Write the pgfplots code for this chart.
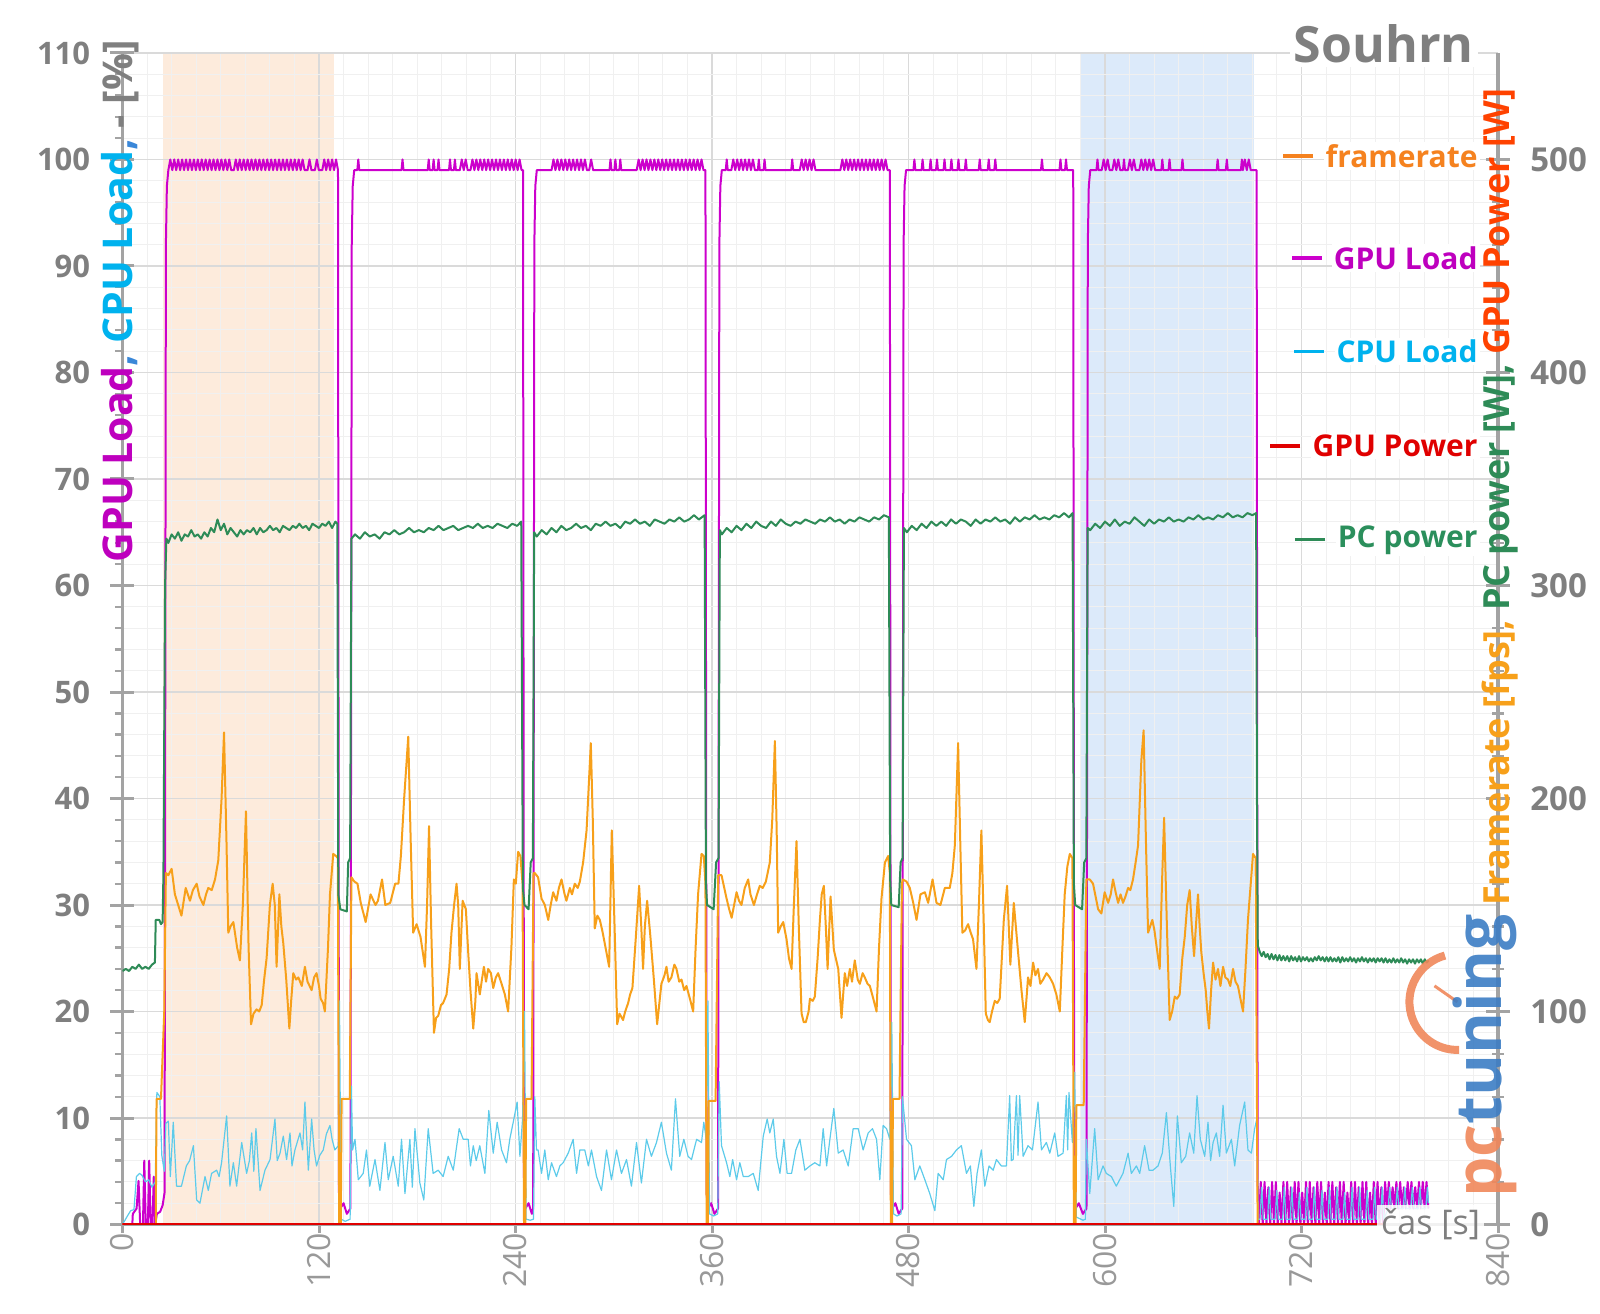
\documentclass[border=0pt]{standalone}
\usepackage{pgfplots}
\pgfplotsset{compat=1.18}
\usepackage{fontspec}
\setmainfont{Open Sans}
\newcommand{\fs}[1]{\fontsize{#1}{#1}\selectfont}
\definecolor{cfps}{HTML}{F7A01A}
\definecolor{cfpstxt}{HTML}{F5821F}
\definecolor{cgpu}{HTML}{CC00CC}
\definecolor{cgputxt}{HTML}{BE00BE}
\definecolor{ccpu}{HTML}{5DCBEA}
\definecolor{ccputxt}{HTML}{00B2EE}
\definecolor{cgpupow}{HTML}{E00000}
\definecolor{cgpupowlbl}{HTML}{FF4200}
\definecolor{cpc}{HTML}{2E8B57}
\definecolor{cpctxt}{HTML}{2B8F5C}
\definecolor{cgrid}{HTML}{DADADA}
\definecolor{cgridminor}{HTML}{F0F0F0}
\definecolor{caxis}{HTML}{A3A3A3}
\definecolor{ctick}{HTML}{7F7F7F}
\definecolor{cxtick}{HTML}{999999}
\definecolor{cpeach}{HTML}{FDEBDC}
\definecolor{cblue}{HTML}{DCEAFA}
\definecolor{clogoO}{HTML}{F0875A}
\definecolor{clogoB}{HTML}{3C7DC4}
\definecolor{ccomma}{HTML}{3A87D8}
\pgfplotsset{
  base/.style={scale only axis, width=687.75pt, height=585.75pt, xmin=0, xmax=840,
    at={(0,0)}, anchor=south west, /pgf/number format/assume math mode=true},
}
\begin{document}
\begin{tikzpicture}
% ---------- background: shading and grid
\begin{axis}[base, ymin=0, ymax=110, axis on top,
  axis line style={draw=none},
  xtick={0,120,...,840}, minor x tick num=7,
  ytick={0,10,...,110}, minor y tick num=4,
  major tick length=0pt, minor tick length=0pt,
  xticklabels={}, yticklabels={},
  grid=both,
  major grid style={cgrid, line width=0.8pt},
  minor grid style={cgridminor, line width=0.5pt}]
\addplot[draw=none, fill=cpeach] coordinates {(24.5,110) (129,110)} \closedcycle;
\addplot[draw=none, fill=cblue] coordinates {(585.6,110) (690.8,110)} \closedcycle;
\end{axis}
% ---------- x axis
\begin{axis}[base, ymin=0, ymax=110,
  axis x line*=bottom, axis y line=none,
  axis line style={draw=caxis, line width=1.6pt},
  xtick={0,120,...,840}, ytick=\empty,
  tick align=outside, major tick length=4pt,
  major x tick style={draw=caxis, line width=1.5pt},
  xticklabel style={font=\fs{16}, text=cxtick, rotate=90, anchor=east, inner sep=0pt}]
\end{axis}
% ---------- left axis: GPU load, CPU load
\begin{axis}[base, ymin=0, ymax=110,
  axis x line=none, axis y line*=left,
  axis line style={draw=caxis, line width=1.6pt},
  xtick=\empty, ytick={0,10,...,110}, minor y tick num=4,
  tick align=center, major tick length=12pt, minor tick length=3.5pt,
  major y tick style={draw=caxis, line width=1.5pt},
  minor y tick style={draw=caxis, line width=1.2pt, xshift=-2pt},
  yticklabel style={font=\bfseries\fs{15.5}, text=ctick, anchor=east, inner sep=0pt, xshift=-10pt}]
% GPU Load
\addplot[cgpu, line width=1pt, line join=round] coordinates {
(0,0)(6,0)(6.3,1)(8.6,1.5)(9.8,4.1)(10.8,0)(12.5,0)(13.3,6)(14.2,0)(15.5,0)(16.3,6)(17.2,0)(18.3,0)(19.1,4.5)(20,0)(21,1)(23,1.2)(24.5,1.8)(25.7,3)
(26.5,92)(27.1,97.5)(28,99)(29.2,100)(30.4,99)(31.6,100)(32.8,99)(34,100)(35.2,99)(36.4,100)(37.6,99)(38.8,100)(40,99)(41.2,100)(42.4,99)(43.6,100)(44.8,99)(46,100)(47.2,99)(48.4,100)(49.6,99)(50.8,100)(52,99)(53.2,100)(54.4,99)(55.6,100)(56.8,99)(58,100)(59.2,99)(60.4,100)(61.6,99)(62.8,100)(64,99)(65.2,100)(66.4,99)(68,99)(69.2,100)(70.4,99)(71.6,100)(72.8,99)(74,100)(75.2,99)(76.4,100)(77.6,99)(78.8,100)(80,99)(81.2,100)(82.4,99)(83.6,100)(84.8,99)(86,100)(87.2,99)(88.4,100)(89.6,99)(90.8,100)(92,99)(93.2,100)(94.4,99)(95.6,100)(96.8,99)(98,100)(99.2,99)(100.4,100)(101.6,99)(102.8,100)(104,99)(105.2,100)(106.4,99)(107.6,100)(108.8,99)(110,100)(111.2,99)(113,99)(114.2,100)(115.4,99)(117.5,99)(118.7,100)(119.9,99)(122,99)(123.2,100)(124.4,99)(125.6,100)(126.8,99)(128,100)(129.2,99)(130.4,100)(131.6,99)(132.2,3)(133,1.5)(135,2)(137,1)(139.2,1.5)
(140,92)(140.6,97.5)(141.5,99)(143.4,99)(144,100)(144.6,99)(170.4,99)(171,100)(171.6,99)(186.4,99)(187,100)(187.6,99)(189.4,99)(190,100)(190.6,99)(192.4,99)(193,100)(193.6,99)(199.4,99)(200,100)(200.6,99)(202.4,99)(203,100)(203.6,99)(206,99)(207.2,100)(208.4,99)(209.6,100)(210.8,99)(212.5,99)(213.7,100)(214.9,99)(216.1,100)(217.3,99)(218.5,100)(219.7,99)(220.9,100)(222.1,99)(223.3,100)(224.5,99)(225.7,100)(226.9,99)(228.1,100)(229.3,99)(230.5,100)(231.7,99)(232.9,100)(234.1,99)(235.3,100)(236.5,99)(237.7,100)(238.9,99)(240.1,100)(241.3,99)(242.5,100)(243.7,99)(244.6,99)(245.2,3)(246,1.5)(248,2)(250,1)(250.8,1.5)
(251.5,92)(252.1,97.5)(253,99)(262,99)(263.2,100)(264.4,99)(265.6,100)(266.8,99)(268,100)(269.2,99)(270.4,100)(271.6,99)(272.8,100)(274,99)(275.2,100)(276.4,99)(277.6,100)(278.8,99)(280,100)(281.2,99)(282.4,100)(283.6,99)(285,99)(286.2,100)(287.4,99)(297.4,99)(298,100)(298.6,99)(300.4,99)(301,100)(301.6,99)(303.4,99)(304,100)(304.6,99)(314,99)(315.2,100)(316.4,99)(317.6,100)(318.8,99)(320,100)(321.2,99)(322.4,100)(323.6,99)(324.8,100)(326,99)(327.2,100)(328.4,99)(329.6,100)(330.8,99)(332,100)(333.2,99)(334.4,100)(335.6,99)(336.8,100)(338,99)(339.2,100)(340.4,99)(341.6,100)(342.8,99)(344,100)(345.2,99)(346.4,100)(347.6,99)(348.8,100)(350,99)(351.2,100)(352.4,99)(353.6,100)(354.8,99)(356,99)(356.7,3)(357.5,1.5)(359.5,2)(361.5,1)(363.7,1.5)
(364.5,92)(365.1,97.5)(366,99)(368.4,99)(369,100)(369.6,99)(371.8,99)(373,100)(374.2,99)(375.4,100)(376.6,99)(377.8,100)(379,99)(380.2,100)(381.4,99)(382.6,100)(383.8,99)(385,100)(386.2,99)(388,99)(388.6,100)(389.2,99)(391.5,99)(392.1,100)(392.7,99)(408.4,99)(409,100)(409.6,99)(413.6,99)(414.8,100)(416,99)(417.2,100)(418.4,99)(419.6,100)(420.8,99)(422,100)(423.2,99)(438.4,99)(439.6,100)(440.8,99)(442,100)(443.2,99)(444.4,100)(445.6,99)(446.8,100)(448,99)(449.2,100)(450.4,99)(451.6,100)(452.8,99)(454,100)(455.2,99)(456.4,100)(457.6,99)(458.8,100)(460,99)(461.2,100)(462.4,99)(463.6,100)(464.8,99)(466,100)(467.2,99)(468.6,99)(469.2,3)(470,1.5)(472,2)(474,1)(476.2,1.5)
(477,92)(477.6,97.5)(478.5,99)(483,99)(483.6,100)(484.2,99)(488,99)(488.6,100)(489.2,99)(492.9,99)(493.5,100)(494.1,99)(496.8,99)(497.4,100)(498,99)(501.4,99)(502,100)(502.6,99)(505.6,99)(506.2,100)(506.8,99)(509.9,99)(510.5,100)(511.1,99)(514.4,99)(515,100)(515.6,99)(522.9,99)(523.5,100)(524.1,99)(528.4,99)(529,100)(529.6,99)(532.4,99)(533,100)(533.6,99)(560.9,99)(561.5,100)(562.1,99)(572.2,99)(572.8,100)(573.4,99)(575.6,99)(576.2,100)(576.8,99)(580.6,99)(581.2,3)(582,1.5)(584,2)(586.5,1)(588.7,1.5)
(589.5,92)(590.1,97.5)(591,99)(594.8,99)(595.4,100)(596,99)(598,99)(599.2,100)(600.4,99)(601.6,100)(602.8,99)(604.5,99)(605.7,100)(606.9,99)(608.1,100)(609.3,99)(611,99)(611.6,100)(612.2,99)(614,99)(615.2,100)(616.4,99)(617.6,100)(618.8,99)(621,99)(622.2,100)(623.4,99)(624.6,100)(625.8,99)(627,100)(628.2,99)(629.4,100)(630.6,99)(634.4,99)(635,100)(635.6,99)(638.8,99)(639.4,100)(640,99)(646.7,99)(647.3,100)(647.9,99)(668.2,99)(668.8,100)(669.4,99)(673.8,99)(674.4,100)(675,99)(683,99)(683.6,100)(684.2,99)(685.4,100)(686.6,99)(687.8,100)(689,99)(692.6,99)(693.2,4)(694,0)
(695.15,4)(696.3,0)(697.45,4)(698.6,0)(699.75,3.5)(700.9,0)(702.05,4)(703.2,0)(704.35,4)(705.5,0)(706.65,3)(707.8,0)(708.95,4)(710.1,0)(711.25,4)(712.4,0)(713.55,3.5)(714.7,0)(715.85,4)(717,0)(718.15,4)(719.3,0)(720.45,3)(721.6,0)(722.75,4)(723.9,0)(725.05,4)(726.2,0)(727.35,3.5)(728.5,0)(729.65,4)(730.8,0)(731.95,4)(733.1,0)(734.25,3)(735.4,0)(736.55,4)(737.7,0)(738.85,4)(740,0)(741.15,3.5)(742.3,0)(743.45,4)(744.6,0)(745.75,4)(746.9,0)(748.05,3)(749.2,0)(750.35,4)(751.5,0)(752.65,4)(753.8,0)(754.95,3.5)(756.1,0)(757.25,4)(758.4,0)(759.55,4)(760.7,0)(761.85,3)(763,0)(764.15,4)(765.3,0)(766.45,4)(767.6,0)(768.75,3.5)(769.9,0)(771.05,4)(772.2,1.5)(773.35,4)(774.5,1.5)(775.65,3.5)(776.8,1.5)(777.95,4)(779.1,1.5)(780.25,4)(781.4,1.5)(782.55,3.5)(783.7,1.5)(784.85,4)(786,1.5)(787.15,4)(788.3,1.5)(789.45,3.5)(790.6,1.5)(791.75,4)(792.9,1.5)(794.05,4)(795.2,1.5)(796.35,4)(797.5,1.5)
};
% CPU Load
\addplot[ccpu, line width=0.6pt, line join=round] coordinates {
(0,0)(3,0.8)(5,1.3)(7,1.4)(8.5,4.5)(10.5,4.8)(12,4.6)(14,4)(16,4.2)(18,3.5)(20,4)(21,12.4)(22.8,12)(24,6.5)(25.5,5)(26.5,9.5)(28,9.7)(29.2,4.5)(31,9.6)(33,3.6)(36,3.6)(39,5.5)(41,6)(43.3,7.4)(45.3,2.3)(47.3,2)(50.4,4.5)(52.4,3.2)(54.4,4.8)(57.5,5.1)(59,4.5)(60.5,5.8)(63.6,10.2)(65.6,3.6)(67.7,5.8)(69.7,3.6)(72.8,7.7)(75.8,4.8)(77.5,6)(78.9,8.6)(80.2,5)(81.5,9)(84,3.2)(87,5.1)(90.1,6.1)(93.1,9.9)(94.5,6)(96.2,6.7)(98.2,8.3)(100.2,6.1)(102.3,8.6)(103.5,5.5)(105.3,7)(108.4,8.6)(110,7)(111.4,11.5)(113.5,5.1)(115.5,9.9)(117,7)(118.5,5.5)(120.5,6.5)(122.6,7)(124.5,8.5)(126.7,9.3)(128,8)(129.7,7)(131.8,7.4)(132.5,21)(133.5,0.5)(136,0.3)(139,0.5)(139.8,13)(140.5,7)
(142,8)(144,4.2)(147,4.8)(149,7)(151,3.6)(154.2,6.1)(157.2,3.2)(160.3,7.7)(162.3,4.2)(165.3,6.4)(168.4,3.6)(170.4,8)(172.5,2.9)(175.5,8)(177,3.5)(178.6,9)(181.6,3.9)(184,2.3)(186.7,9)(189.7,4.8)(192.8,5.1)(195.8,4.5)(198.9,6.4)(202,5.1)(205.6,9)(208.1,8)(211.1,8)(212.5,5.5)(214.2,7.4)(216,6)(218.2,7.4)(221.3,4.8)(223.7,10.7)(226.4,6.7)(228.8,9.6)(231.5,7)(234.5,5.8)(236.5,8)(239,9.9)(241,11.5)(242.7,6.4)(244.3,9.9)(245.5,20)(246.5,0.5)(249,0.4)(251,0.5)(251.8,12)(252.8,7)
(253.8,7)(255.9,4.8)(257.9,7)(260,4.2)(262,5.8)(265,4.5)(267.1,5.5)(269.1,5.8)(272.2,6.7)(275.2,8)(277.3,4.8)(279.3,7)(282.3,7)(284.5,5.5)(286.4,7)(289.5,4.5)(292.5,3.2)(295.6,7)(298.6,4.2)(301.7,7)(304.7,4.8)(307.8,6.1)(310.8,3.6)(313.9,7.7)(316.9,3.9)(320,8)(323,6.4)(326.1,7.7)(329.1,9.6)(332.2,6.7)(335.2,5.1)(337.7,11.8)(340.3,6.4)(342.8,8)(345.4,6.4)(347.5,6.1)(350.6,8)(353.6,7.7)(355,9.6)(356.5,8)(357.5,21)(358.5,1)(361,0.8)(363.5,1)(364.4,13.4)(365.8,7.4)
(368.9,5.8)(370.9,4.5)(372.6,6.1)(375,4.2)(377,5.8)(379.1,4.5)(382.1,4.5)(385.2,4.8)(388.2,3.2)(391.3,8.3)(393.7,9.9)(395.3,8.6)(397.4,9.9)(399.4,6.4)(401.5,4.8)(403.9,8)(405.9,4.8)(408.6,4.8)(411.2,7)(413.7,8)(416.7,5.1)(419.8,5.5)(422.8,5.8)(425.9,5.5)(427.9,9)(430,5.5)(432,8)(434.4,10.9)(437.1,6.7)(440.1,7)(443.2,5.5)(446.2,9)(449.3,9)(452.3,7)(455.4,8.6)(458,9)(460.5,8)(462.5,4.2)(464.5,9.3)(466.6,9)(468.6,8)(469.8,19)(470.8,1)(473,0.8)(475.5,1)(476.3,12)(478.8,8)
(481.8,7.4)(483.9,4.2)(486.9,5.5)(490,4.2)(493,2.9)(496.1,1.3)(498.1,4.8)(501.2,4.2)(503.2,6.1)(506.3,6.4)(509.3,7)(512.3,7.4)(515.4,4.8)(517.8,5.5)(519.9,1.7)(521.9,4.8)(524.5,7)(526.6,3.6)(529.2,5.5)(531.7,5.1)(533.7,6.1)(536.7,5.5)(539.8,5.5)(541.8,12.1)(542.8,6)(543.9,6.1)(545.9,12.1)(546.9,6.5)(547.9,12.1)(550,6.4)(553,7.4)(555.7,7)(559.1,11.5)(561.2,7)(564.2,7.7)(566.3,6.7)(569.3,8.6)(571.3,6.4)(574.4,6.7)(576.4,12.1)(577.2,7)(578,12.4)(580.1,7.7)(581.5,14.3)(582.5,0.7)(586.6,0.4)(588,0.5)(588.6,8)(590.7,2.9)
(593.7,9)(595.8,4.2)(598.8,5.5)(600.8,4.8)(603.9,4.5)(606.9,3.6)(611,4.8)(614.1,6.7)(616.1,4.8)(619.2,5.5)(621.2,4.8)(624.2,7.4)(626.9,5.1)(629.3,5.1)(632.4,5.5)(635,6.7)(637.5,10.5)(639.9,5.5)(642,1.7)(644.2,10.2)(646.6,5.8)(649.3,6.4)(651.7,8.6)(654.2,6.7)(656.2,12.1)(658.2,8)(660.9,6.4)(662.9,9.6)(664.5,6)(666,7.7)(668,8.6)(670,6.4)(672.1,11.2)(674.1,6.7)(677.2,8)(679.2,5.5)(682.2,9.3)(685.3,11.5)(687.3,7)(689.4,6.7)(691.4,9)(692.8,10)(693.5,0.5)
(694.7,0.5)(695.7,3.5)(696.7,0.5)(699.3,0.5)(700.3,3.5)(701.3,0.5)(703.9,0.5)(704.9,3.2)(705.9,0.5)(708.5,0.5)(709.5,3.5)(710.5,0.5)(713.1,0.5)(714.1,3.5)(715.1,0.5)(717.7,0.5)(718.7,3)(719.7,0.5)(722.3,0.5)(723.3,3.5)(724.3,0.5)(726.9,0.5)(727.9,3.5)(728.9,0.5)(731.5,0.5)(732.5,3.2)(733.5,0.5)(736.1,0.5)(737.1,3.5)(738.1,0.5)(740.7,0.5)(741.7,3.5)(742.7,0.5)(745.3,0.5)(746.3,3)(747.3,0.5)(749.9,0.5)(750.9,3.5)(751.9,0.5)(754.5,0.5)(755.5,3.5)(756.5,0.5)(759.1,0.5)(760.1,3.2)(761.1,0.5)(763.7,0.5)(764.7,3.5)(765.7,0.5)(768.3,0.5)(769.3,3.5)(770.3,0.5)(772.9,1.5)(773.9,3.5)(774.9,1.5)(777.5,1.5)(778.5,3.5)(779.5,1.5)(782.1,1.5)(783.1,3.5)(784.1,1.5)(786.7,1.5)(787.7,3.5)(788.7,1.5)(791.3,1.5)(792.3,3.5)(793.3,1.5)(795.9,1.5)(796.9,3.5)(797.5,2)
};
\end{axis}
% ---------- right axis: framerate, PC power, GPU power
\begin{axis}[base, ymin=0, ymax=550, clip mode=individual,
  axis x line=none, axis y line*=right,
  axis line style={draw=caxis, line width=1.6pt},
  xtick=\empty, ytick={0,100,...,500}, minor y tick num=4,
  tick align=center, major tick length=12pt, minor tick length=6pt,
  major y tick style={draw=caxis, line width=1.5pt},
  minor y tick style={draw=caxis, line width=1.2pt},
  yticklabel style={font=\bfseries\fs{16.5}, text=ctick, anchor=west, inner sep=0pt, xshift=10pt}]
% framerate
\addplot[cfps, line width=1pt, line join=round] coordinates {
(0,0)(20.3,0)(20.8,59)(23.5,59)(25.5,100)(26.5,165)(28,164)(30,167)(32,155)(34,150)(36,145)(38.6,158)(41.2,152)(43,157)(45.3,160)(47,154)(49.4,150)(51,155)(52.4,158)(54.5,157)(56.5,162)(58.5,171)(60.5,200)(62,231)(63.5,180)(64.6,137)(66,140)(67.7,142)(70,130)(71.7,124)(73.5,150)(75.4,194)(77,130)(78.5,94)(80,99)(81.9,101)(83.5,100)(85,103)(86.5,115)(88,125)(90,150)(91.7,160)(93,150)(94.1,121)(95.8,155)(97,140)(98.2,132)(100,115)(101.9,92)(103,105)(104.3,118)(106,115)(107.4,116)(109.5,112)(111.4,121)(113,114)(115.5,110)(117,116)(118.5,118)(120,112)(121,106)(122.5,104)(123.6,100)(125.5,130)(126.7,155)(128.7,174)(130.4,173)(131.5,172)(132.3,0)(133.3,0)(133.8,59)(138.8,59)(139.8,163)
(141.6,161)(143.5,160)(145.5,151)(148.5,142)(151.5,155)(154.5,150)(156,152)(158.5,162)(160.5,150)(163.5,151)(166.5,160)(168.5,160)(170,173)(172,200)(174.5,229)(176,180)(177.5,137)(179.6,141)(182,135)(184.7,121)(186,150)(187.2,187)(188.5,140)(190.2,90)(191.5,97)(192.8,98)(194.5,103)(195.8,104)(197.9,108)(199.5,120)(200.9,137)(202.5,150)(204,160)(205,150)(206,120)(207.7,152)(209.7,148)(211.1,128)(212.5,110)(214.2,92)(215.5,105)(216.2,118)(218.2,108)(219.5,115)(220.7,121)(222,114)(223.3,120)(225,118)(226.4,111)(228,116)(229.4,118)(231.5,113)(233.5,108)(235.5,100)(237.5,130)(239,162)(240.2,160)(241.6,175)(243,173)(244.3,160)(245.2,0)(246,0)(246.5,59)(249.8,59)(251,165)
(251.8,165)(253.8,163)(255.9,153)(257.9,150)(260,143)(261.5,150)(263,156)(265,152)(266.5,158)(268.1,162)(270,155)(271.1,152)(273.2,158)(274.5,155)(276.2,160)(278,158)(279.3,161)(281.3,170)(283.4,185)(286,226)(287.2,190)(288.4,139)(290,145)(291.5,143)(293,138)(294.5,132)(297.2,121)(298.8,185)(300.5,140)(302.1,94)(303.5,99)(305.7,96)(307,100)(308.8,104)(310,108)(311.4,111)(313.5,135)(315.5,159)(316.8,140)(317.9,120)(319,140)(320.4,152)(322.4,135)(324.5,115)(326.5,94)(328,105)(329.1,113)(331,117)(332.2,121)(333.5,114)(335.2,116)(337,122)(338.3,120)(340,114)(341.4,115)(343,110)(344.4,112)(346.5,106)(348.5,100)(350,130)(351.5,155)(353.6,174)(355,173)(356,160)(356.7,0)(357.5,0)(358,58)(362.2,58)(363.8,164)
(365.8,164)(367.5,158)(368.9,153)(370.5,148)(372,144)(373.5,150)(375,156)(376.5,152)(378,150)(380,158)(382.1,162)(383.5,155)(385.6,150)(387.5,155)(389.2,159)(391,158)(392.9,161)(395.3,170)(396.8,190)(398.4,227)(399.5,185)(400.4,137)(402,140)(403.5,142)(405.5,134)(407,125)(408.6,120)(410,150)(411.6,180)(413,140)(414.7,99)(416,95)(417.3,95)(419,100)(419.8,106)(421.5,105)(422.8,107)(424.5,125)(425.9,143)(427,155)(428.3,159)(429.5,140)(430.6,120)(432.4,154)(434.4,129)(437.1,120)(439.1,97)(440.3,110)(441.1,118)(442.5,112)(444.2,120)(445.5,114)(447.2,124)(449,115)(450.3,113)(452,118)(453.3,116)(455,113)(456.4,112)(458.5,106)(460.5,100)(462,130)(463.5,153)(465.6,170)(467.6,173)(468.6,165)(469.2,0)(470,0)(470.5,59)(474.5,59)(476,160)
(476.5,162)(478.8,161)(480.8,158)(482.9,151)(484.9,143)(487.3,155)(490,156)(492,151)(494.7,162)(497.1,151)(499.5,150)(502.2,158)(505.2,158)(506.8,165)(508.3,178)(510.3,226)(511.6,180)(512.9,137)(514.5,138)(516.4,141)(518,137)(519.4,134)(521.5,120)(523,150)(524.5,185)(526,140)(527.2,99)(528.5,96)(529.6,95)(531,100)(532.7,105)(534.2,104)(535.7,106)(537,125)(538.2,143)(540.2,159)(542.2,122)(544.3,151)(546.9,128)(549,110)(551,95)(553,116)(554.5,112)(556.1,123)(557.5,117)(559.1,120)(560.5,113)(562.2,115)(564.3,118)(566.3,116)(568.3,113)(570.3,108)(572.4,100)(574,130)(575.4,155)(577,168)(578.5,174)(580.1,172)(581,0)(582,0)(582.5,56)(587,56)(588.6,162)
(590.7,162)(592.7,160)(594,155)(595.8,148)(597.8,146)(599.8,156)(601.9,151)(603.5,155)(604.9,162)(606.5,156)(608,151)(609.5,155)(611,151)(612.5,154)(614.1,158)(615.5,157)(617.1,162)(618.7,170)(620.2,178)(622.2,218)(623.6,232)(625,180)(626.3,137)(627.6,140)(628.9,143)(630.2,138)(631.4,131)(633.4,120)(634.8,160)(636.1,191)(637.8,140)(639.5,96)(641,100)(642.6,107)(644,106)(645.6,108)(647.2,125)(648.7,135)(650.2,150)(651.7,157)(653,140)(654.4,126)(655.5,140)(656.8,155)(657.8,140)(658.8,128)(660.2,118)(661.5,110)(662.5,100)(663.5,92)(664.8,110)(666,123)(667.5,115)(669,120)(670.5,112)(672.1,121)(673.5,116)(675.1,115)(676.5,112)(678.2,120)(679.7,114)(681.2,112)(682.7,106)(684.3,100)(685.8,120)(687.3,143)(689,160)(690.4,174)(692,172)(693.2,0)(771,0)
};
% PC power
\addplot[cpc, line width=1pt, line join=round] coordinates {
(0,119)(2,120)(4,119)(6,121)(8,120)(10,122)(12,120)(14,121)(16,120)(18,122)(19.8,123)(20.3,143)(22.5,143)(23.5,141)(24.5,142)(25,165)(26,300)(26.8,322)
(28,320)(30,324)(32,322)(34,325)(36,321)(38,324)(40,323)(42,326)(44,323)(46,324)(48,322)(50,325)(52,323)(54,327)(56,325)(58,331)(60,326)(62,329)(64,324)(66,327)(68,325)(70,323)(72,326)(74,324)(76,326)(78,325)(80,327)(82,324)(84,327)(86,325)(88,326)(90,328)(92,326)(94,327)(96,325)(98,328)(100,327)(102,326)(104,328)(106,327)(108,329)(110,327)(112,328)(114,326)(116,329)(118,328)(120,327)(122,329)(124,328)(126,330)(128,327)(130,330)(131.2,329)(131.8,155)(133,148)(137,147)(137.8,170)(139,172)(139.8,322)
(142,324)(145,322)(148,325)(151,323)(154,324)(157,322)(160,325)(163,324)(166,326)(169,324)(172,325)(175,327)(178,325)(181,326)(184,325)(187,327)(190,326)(193,328)(196,326)(199,327)(202,328)(205,326)(208,327)(211,328)(214,327)(217,329)(220,327)(223,328)(226,327)(229,329)(232,328)(235,327)(238,329)(241,328)(243.5,330)(244.5,158)(245.5,150)(248,148)(249.3,170)(250.6,172)(251.4,325)
(253,323)(256,326)(259,324)(262,327)(265,325)(268,328)(271,326)(274,327)(277,329)(280,327)(283,328)(286,326)(289,329)(292,328)(295,330)(298,328)(301,329)(304,327)(307,330)(310,329)(313,331)(316,329)(319,330)(322,328)(325,331)(328,330)(331,329)(334,331)(337,330)(340,332)(343,330)(346,331)(349,333)(352,331)(355.5,333)(356.3,160)(357,150)(361,148)(362.5,170)(364,172)(364.8,326)
(366,324)(369,327)(372,325)(375,328)(378,326)(381,329)(384,327)(387,330)(390,328)(393,327)(396,330)(399,328)(402,331)(405,329)(408,328)(411,330)(414,329)(417,331)(420,330)(423,329)(426,331)(429,330)(432,332)(435,330)(438,331)(441,329)(444,331)(447,330)(450,332)(453,331)(456,330)(459,332)(462,331)(465,333)(468,332)(468.8,162)(469.5,150)(474,149)(475.2,170)(476.4,172)(477.2,327)
(479,325)(482,328)(485,326)(488,329)(491,327)(494,330)(497,328)(500,330)(503,328)(506,331)(509,329)(512,331)(515,330)(518,328)(521,331)(524,329)(527,331)(530,330)(533,332)(536,330)(539,331)(542,329)(545,332)(548,330)(551,332)(554,331)(557,333)(560,331)(563,332)(566,331)(569,333)(572,332)(575,334)(578,332)(580.2,334)(581,160)(581.8,150)(586,148)(587.3,170)(588.6,172)(589.4,327)
(591,326)(594,329)(597,327)(600,330)(603,328)(606,331)(609,328)(612,330)(615,329)(618,332)(621,330)(624,328)(627,331)(630,329)(633,331)(636,330)(639,332)(642,330)(645,331)(648,330)(651,332)(654,331)(657,333)(660,331)(663,332)(666,331)(669,333)(672,332)(675,334)(678,332)(681,333)(684,332)(687,334)(690,333)(692.3,334)(692.8,200)(693.3,131)
(694.5,128)(695.7,126)(696.9,128)(698.1,125.5)(699.3,127)(700.5,124.5)(701.7,127)(702.9,124.5)(704.1,126.5)(705.3,124)(706.5,126.5)(707.7,124)(708.9,126)(710.1,124)(711.3,126)(712.5,123.5)(713.7,126)(714.9,124)(716.1,125.5)(717.3,123.5)(718.5,126)(719.7,123.5)(720.9,125.5)(722.1,124)(723.3,125.5)(724.5,123.5)(725.7,125)(726.9,123.5)(728.1,125.5)(729.3,124)(730.5,126)(731.7,124)(732.9,125.5)(734.1,123.5)(735.3,125.5)(736.5,123.5)(737.7,125.5)(738.9,123.5)(740.1,125)(741.3,123.5)(742.5,125.5)(743.7,123)(744.9,125.5)(746.1,123.5)(747.3,125)(748.5,123.5)(749.7,125.5)(750.9,123.5)(752.1,125)(753.3,123)(754.5,125)(755.7,123.5)(756.9,125.5)(758.1,123.5)(759.3,125)(760.5,123)(761.7,125)(762.9,123.5)(764.1,125)(765.3,123)(766.5,125)(767.7,123.5)(768.9,125)(770.1,123)(771.3,125)(772.5,123)(773.7,124.5)(774.9,123)(776.1,125)(777.3,123)(778.5,124.5)(779.7,123)(780.9,125)(782.1,123)(783.3,124.5)(784.5,122.5)(785.7,124.5)(786.9,123)(788.1,124.5)(789.3,122.5)(790.5,124.5)(791.7,123)(792.9,124.5)(794.1,122.5)(795.3,124.5)(796.5,123)(797.7,124)
};
% GPU power
\addplot[cgpupow, line width=1.5pt] coordinates {(0,0) (771,0)};
% ---- texts and decorations
\node[anchor=center, inner sep=2pt, fill=white, fill opacity=0.85, text opacity=1, text=ctick, font=\fs{17}] at (rel axis cs:0.951,0) {čas [s]};
\node[anchor=base east, inner sep=2pt, fill=white, text=ctick, font=\bfseries\fs{25}] at (rel axis cs:0.9855,0.9915) {Souhrn};
\node[rotate=90, font=\bfseries\fs{20.5}] at (rel axis cs:-0.002,0.788)
  {{\color{cgputxt}GPU Load}{\color{ccomma},} {\color{ccputxt}CPU Load}{\color{ccomma},} {\color{ctick}- [\%]}};
\node[rotate=90, font=\bfseries\fs{18}] at (rel axis cs:1.0015,0.6206)
  {{\color{cfps}Framerate [fps],} {\color{cpc}PC power [W],} {\color{cgpupowlbl}GPU Power [W]}};
% logo
\draw[clogoO, line width=4pt, opacity=0.9] (rel axis cs:0.9705,0.1900) ++(105:24pt) arc[start angle=105, end angle=272, radius=24pt];
\draw[clogoO, line width=1.5pt, opacity=0.9] (rel axis cs:0.9705,0.1900) -- ++(145:14pt);
\node[rotate=90, font=\bfseries\fs{32}, opacity=0.9] at (rel axis cs:0.9905,0.1438)
  {{\color{clogoO}pc}{\color{clogoB}tuning}};
% legend
\node[anchor=east, inner sep=1pt, fill=white, text=cfpstxt, font=\bfseries\fs{15}] (L1) at (rel axis cs:0.9869,0.912) {framerate};
\draw[cfpstxt, line width=1.6pt] ([xshift=-5pt]L1.west) -- ++(-15pt,0);
\node[anchor=east, inner sep=1pt, fill=white, text=cgputxt, font=\bfseries\fs{15}] (L2) at (rel axis cs:0.9869,0.825) {GPU Load};
\draw[cgpu, line width=1.6pt] ([xshift=-5pt]L2.west) -- ++(-15pt,0);
\node[anchor=east, inner sep=1pt, fill=white, text=ccputxt, font=\bfseries\fs{15}] (L3) at (rel axis cs:0.9869,0.745) {CPU Load};
\draw[ccputxt, line width=1.6pt] ([xshift=-5pt]L3.west) -- ++(-15pt,0);
\node[anchor=east, inner sep=1pt, fill=white, text=cgpupow, font=\bfseries\fs{15}] (L4) at (rel axis cs:0.9869,0.6646) {GPU Power};
\draw[cgpupow, line width=1.6pt] ([xshift=-5pt]L4.west) -- ++(-15pt,0);
\node[anchor=east, inner sep=1pt, fill=white, text=cpctxt, font=\bfseries\fs{15}] (L5) at (rel axis cs:0.9869,0.5845) {PC power};
\draw[cpc, line width=1.6pt] ([xshift=-5pt]L5.west) -- ++(-15pt,0);
\end{axis}
\pgfresetboundingbox
\path[use as bounding box] (-61.25pt,-44.25pt) rectangle (738.75pt,612.25pt);
\end{tikzpicture}
\end{document}
